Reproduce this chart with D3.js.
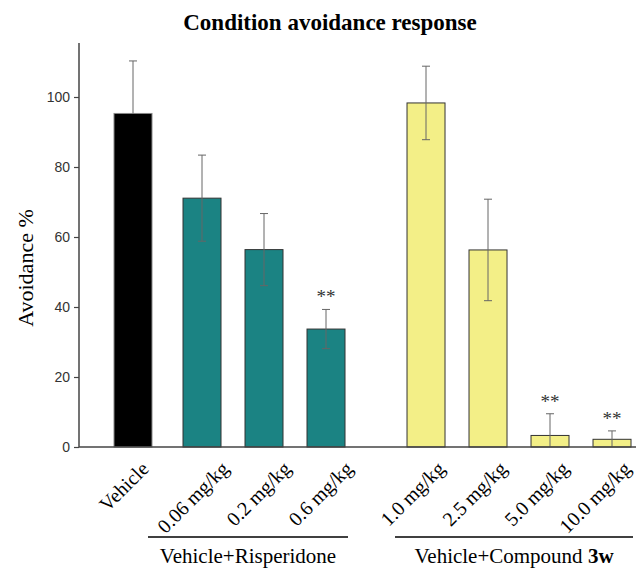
<!DOCTYPE html>
<html><head><meta charset="utf-8">
<script src="https://cdn.jsdelivr.net/npm/d3@7"></script>
<style>html,body{margin:0;padding:0;background:#fff;}</style>
</head><body>
<svg id="chart" width="636" height="568"></svg>
<script>
const categories = ["Vehicle","0.06 mg/kg","0.2 mg/kg","0.6 mg/kg","1.0 mg/kg","2.5 mg/kg","5.0 mg/kg","10.0 mg/kg"];
const groups = [0,1,1,1,2,2,2,2];
const values = [95.3, 71.1, 56.4, 33.7, 98.3, 56.3, 3.3, 2.2];
const errors = [15.0, 12.3, 10.3, 5.6, 10.5, 14.5, 6.2, 2.4];
const significant = [false,false,false,true,false,false,true,true];
const groupLabels = ["Vehicle+Risperidone","Vehicle+Compound "];
const yTicks = [0,20,40,60,80,100];
const groupColors = ["#000000","#1b8383","#f3ef87"];

const svg = d3.select("#chart");
const groupGap = [0, 0.113, 0.726];
const slot = categories.map((c,i)=> i + groupGap[groups[i]]);
const x = d3.scaleLinear().domain([0,1]).range([133,195]);
const bw = 38;
const y = d3.scaleLinear().domain([0,115]).range([447,44.5]);
const axisX = 79;

// title
svg.append("text").attr("x",330).attr("y",30).attr("text-anchor","middle")
  .attr("font-family","Liberation Serif, Times New Roman, serif").attr("font-weight","bold")
  .attr("font-size",23).attr("fill","#000").text("Condition avoidance response");

// y label
svg.append("text").attr("transform","translate(33,268) rotate(-90)").attr("text-anchor","middle")
  .attr("font-family","Liberation Serif, Times New Roman, serif").attr("font-size",22).attr("fill","#000")
  .text("Avoidance %");

// y axis
const yAxis = d3.axisLeft(y).tickValues(yTicks).tickSize(5).tickPadding(4);
const ga = svg.append("g").attr("transform",`translate(${axisX},0)`).call(yAxis);
ga.select(".domain").remove();
ga.selectAll(".tick line").attr("stroke","#444").attr("stroke-width",1.2);
ga.selectAll(".tick text").attr("font-family","Liberation Sans, Arial, sans-serif").attr("font-size",14).attr("fill","#333");
svg.append("line").attr("x1",axisX).attr("x2",axisX).attr("y1",y(115)-1.5).attr("y2",y(0))
  .attr("stroke","#444").attr("stroke-width",1.5);

// bars
const idx = d3.range(categories.length);
svg.selectAll("rect.bar").data(idx).enter().append("rect")
  .attr("x",i=>x(slot[i])-bw/2).attr("width",bw)
  .attr("y",i=>y(values[i])).attr("height",i=>y(0)-y(values[i]))
  .attr("fill",i=>groupColors[groups[i]])
  .attr("stroke",i=>groups[i]===0?"#888":"#333").attr("stroke-width",1);

// error bars
const eg = svg.append("g").attr("stroke","#666").attr("stroke-width",1);
idx.forEach(i=>{
  const cx = x(slot[i]);
  const hi = values[i]+errors[i];
  const lo = Math.max(0, values[i]-errors[i]);
  const showLow = groups[i]!==0;
  eg.append("line").attr("x1",cx).attr("x2",cx).attr("y1",y(hi)).attr("y2",showLow?y(lo):y(values[i]));
  eg.append("line").attr("x1",cx-4).attr("x2",cx+4).attr("y1",y(hi)).attr("y2",y(hi));
  if(showLow && lo>0) eg.append("line").attr("x1",cx-4).attr("x2",cx+4).attr("y1",y(lo)).attr("y2",y(lo));
});

// x axis baseline
svg.append("line").attr("x1",axisX).attr("x2",636).attr("y1",y(0)).attr("y2",y(0))
  .attr("stroke","#444").attr("stroke-width",1.5);

// significance
idx.filter(i=>significant[i]).forEach(i=>{
  svg.append("text").attr("x",x(slot[i])).attr("y",y(values[i]+errors[i])-6)
    .attr("text-anchor","middle").attr("font-family","Liberation Serif, Times New Roman, serif")
    .attr("font-size",19).attr("fill","#333").text("**");
});

// x tick labels
const labelShift = [17, 28, 20];
idx.forEach(i=>{
  const ax = x(slot[i]) + labelShift[groups[i]], ay = 470;
  svg.append("text").attr("transform",`translate(${ax},${ay}) rotate(-45)`)
    .attr("text-anchor","end").attr("font-family","Liberation Serif, Times New Roman, serif")
    .attr("font-size",20).attr("fill","#000").text(categories[i]);
});

// group brackets
const gInfo = [1,2].map(g=>{
  const ii = idx.filter(i=>groups[i]===g);
  return {g, x0:x(slot[ii[0]]), x1:x(slot[ii[ii.length-1]])};
});
const brk = [[-54,22],[-31,21]];
gInfo.forEach((d,k)=>{
  const l = d.x0+brk[k][0], r = d.x1+brk[k][1];
  svg.append("line").attr("x1",l).attr("x2",r).attr("y1",537).attr("y2",537).attr("stroke","#000").attr("stroke-width",1.5);
  const t = svg.append("text").attr("x",(l+r)/2).attr("y",563).attr("text-anchor","middle")
    .attr("font-family","Liberation Serif, Times New Roman, serif").attr("font-size",21).attr("fill","#000")
    .text(groupLabels[k]);
  if(k===1) t.append("tspan").attr("font-weight","bold").text("3w");
});
</script>
</body></html>
